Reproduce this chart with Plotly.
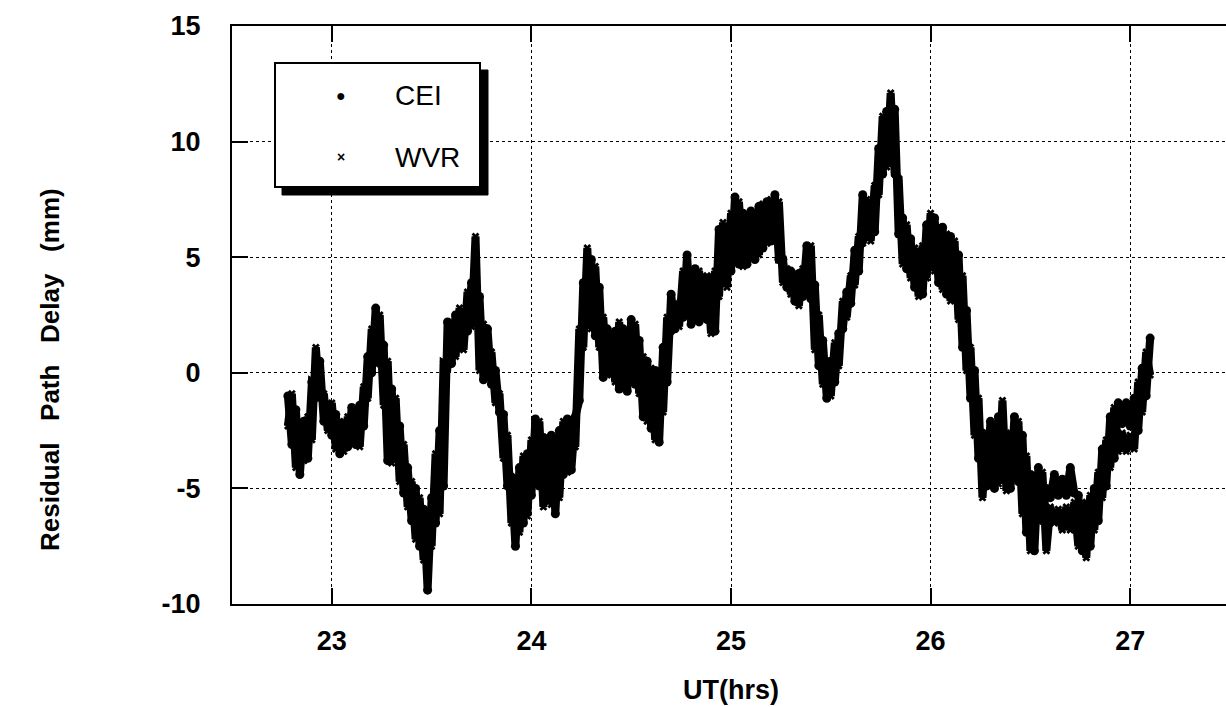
import plotly.graph_objects as go

# ---- data (UT hours, residual path delay mm) ----
UT_START = 22.78
UT_STEP = 0.02

cei = [
    -1.0, -3.1, -1.6, -4.4, -2.1, -3.7, -0.4, -0.5, 0.5, -2.1,
    -1.4, -2.7, -1.8, -3.5, -2.2, -3.2, -1.5, -3.1, -1.4, -2.3,
    0.7, 0.0, 2.8, 0.4, 1.2, -3.8, -0.7, -3.5, -2.3, -5.2,
    -4.1, -6.4, -5.0, -7.5, -5.9, -9.4, -5.4, -6.5, -2.5, -4.9,
    2.2, 0.4, 2.5, 1.1, 2.5, 1.8, 3.9, 2.5, 3.3, -0.3,
    1.9, -0.5, 0.1, -1.7, -1.8, -4.9, -4.5, -7.5, -4.1, -6.5,
    -3.5, -5.3, -2.0, -4.9, -2.8, -5.5, -2.7, -6.1, -2.5, -4.4,
    -2.0, -4.2, -1.9, -1.2, 3.9, 2.1, 4.9, 1.6, 3.7, -0.2,
    1.9, 0.0, 1.8, -0.7, 1.9, -0.8, 2.3, -0.5, 1.4, -1.9,
    0.5, -2.4, 0.1, -3.0, 1.1, -0.4, 3.4, 1.9, 2.9, 2.4,
    5.1, 2.1, 4.5, 2.2, 4.1, 2.3, 4.1, 1.8, 6.2, 4.1,
    5.7, 4.4, 7.6, 4.7, 6.9, 4.7, 7.0, 4.9, 7.2, 5.4,
    7.4, 5.7, 7.7, 4.9, 4.9, 3.7, 4.4, 3.1, 4.3, 3.3,
    5.5, 3.2, 3.8, 0.3, 1.4, -1.1, 0.5, -0.4, 1.7, 1.9,
    3.5, 3.0, 5.3, 4.4, 7.7, 5.9, 7.3, 6.1, 9.7, 8.6,
    11.3, 9.1, 11.4, 6.0, 6.7, 4.5, 5.8, 3.7, 4.9, 3.4,
    6.4, 4.7, 6.7, 3.9, 6.3, 3.4, 5.9, 3.2, 5.1, 1.1,
    2.7, -1.1, 0.1, -3.7, -2.6, -4.9, -2.1, -5.0, -1.9, -4.6,
    -2.7, -5.0, -1.9, -4.7, -2.7, -6.9, -4.4, -7.7, -4.1, -6.4,
    -5.0, -5.4, -4.4, -5.3, -4.6, -5.3, -4.1, -5.2, -5.3, -7.7,
    -5.7, -7.5, -5.0, -6.4, -3.3, -4.9, -1.9, -3.7, -1.3, -2.2,
    -1.3, -2.3, -1.1, -2.5, 0.2, -1.0, 1.5,
]

wvr = [
    -2.3, -0.9, -4.1, -2.1, -3.8, -1.9, -2.9, 1.1, -1.1, -0.9,
    -2.5, -1.3, -3.3, -2.1, -3.4, -1.9, -3.0, -1.7, -3.2, -0.6,
    -1.1, 1.9, 0.8, 2.5, -1.4, 0.5, -3.9, -1.1, -4.7, -3.1,
    -5.8, -4.7, -7.2, -5.4, -8.1, -6.1, -7.5, -3.5, -6.1, 0.4,
    0.3, 2.2, 0.7, 2.8, 1.0, 3.5, 2.0, 5.9, 0.1, 2.1,
    -0.2, 0.9, -1.3, -0.9, -3.7, -2.7, -6.5, -4.7, -6.9, -3.6,
    -6.2, -2.9, -4.7, -2.1, -5.8, -2.8, -5.7, -3.0, -5.4, -2.1,
    -4.3, -2.0, -3.2, 1.9, 1.1, 5.4, 1.9, 4.6, 1.1, 2.4,
    -0.1, 1.6, -0.4, 2.2, -0.4, 1.5, -0.4, 2.1, -0.9, 0.7,
    -2.1, 0.2, -2.9, 0.1, -1.7, 2.4, 1.8, 3.0, 2.0, 4.4,
    2.6, 4.5, 2.3, 4.4, 3.0, 4.2, 1.7, 4.4, 3.3, 6.5,
    3.7, 6.9, 4.8, 7.4, 4.6, 6.7, 4.9, 6.9, 5.1, 7.3,
    5.6, 7.5, 6.0, 7.4, 3.9, 4.5, 3.4, 4.2, 2.9, 4.5,
    3.7, 5.5, 1.0, 2.5, -0.5, 0.5, -1.0, 1.3, 0.3, 3.1,
    2.4, 4.2, 3.8, 5.9, 5.6, 7.5, 5.7, 8.1, 7.7, 11.1,
    8.9, 12.1, 8.6, 8.4, 4.7, 6.4, 4.1, 5.4, 3.3, 5.5,
    4.1, 6.9, 4.4, 6.3, 3.6, 6.0, 3.1, 5.7, 2.3, 4.2,
    0.1, 1.1, -2.7, -1.1, -5.4, -2.7, -4.8, -2.4, -4.8, -1.2,
    -5.1, -2.6, -4.2, -2.1, -6.1, -3.6, -7.7, -4.4, -6.2, -4.3,
    -7.7, -5.8, -6.5, -5.9, -6.8, -5.8, -6.8, -5.6, -7.5, -5.6,
    -8.0, -5.3, -6.8, -4.3, -5.4, -2.9, -4.1, -1.5, -3.4, -2.6,
    -3.4, -2.7, -3.3, -0.4, -1.7, 0.9, -0.1,
]

ut = [round(UT_START + UT_STEP * i, 2) for i in range(len(cei))]

x_ticks = [23, 24, 25, 26, 27]
x_ticklabels = ["23", "24", "25", "26", "27"]
y_ticks = [-10, -5, 0, 5, 10, 15]
y_ticklabels = ["-10", "-5", "0", "5", "10", "15"]

series_names = ["CEI", "WVR"]

FONT = "Liberation Sans, Arial, Helvetica, sans-serif"

fig = go.Figure()
fig.add_trace(go.Scatter(
    x=ut, y=cei, name=series_names[0], mode="lines+markers",
    line=dict(color="black", width=8),
    marker=dict(symbol="circle", size=9, color="black"),
    showlegend=False, hoverinfo="skip"))
fig.add_trace(go.Scatter(
    x=ut, y=wvr, name=series_names[1], mode="lines+markers",
    line=dict(color="black", width=8),
    marker=dict(symbol="x", size=7, color="black"),
    showlegend=False, hoverinfo="skip"))

L, R, T, B = 232, 0, 26, 103
W, H = 1226, 707
pw = W - L - R
ph = H - T - B


def px2paper(px, py):
    return (px - L) / pw, (H - B - py) / ph


# Legend box with drop shadow (built from shapes + annotations)
sx0, sy1 = px2paper(282, 70)
sx1, sy0 = px2paper(488, 195)
bx0, by1 = px2paper(275, 63)
bx1, by0 = px2paper(480, 187)
fig.add_shape(type="rect", xref="paper", yref="paper", x0=sx0, x1=sx1, y0=sy0, y1=sy1,
              fillcolor="black", line=dict(color="black", width=1), layer="above")
fig.add_shape(type="rect", xref="paper", yref="paper", x0=bx0, x1=bx1, y0=by0, y1=by1,
              fillcolor="white", line=dict(color="black", width=2), layer="above")

mx, my1 = px2paper(341, 95)
_, my2 = px2paper(341, 157)
tx, _ = px2paper(393, 95)
fig.add_annotation(xref="paper", yref="paper", x=mx, y=my1, text="\u25cf", showarrow=False,
                   font=dict(family=FONT, size=16, color="black"), xanchor="center", yanchor="middle")
fig.add_annotation(xref="paper", yref="paper", x=mx, y=my2, text="\u00d7", showarrow=False,
                   font=dict(family=FONT, size=14, color="black", weight="bold"),
                   xanchor="center", yanchor="middle")
fig.add_annotation(xref="paper", yref="paper", x=tx, y=my1, text=series_names[0], showarrow=False,
                   font=dict(family=FONT, size=28, color="black"), xanchor="left", yanchor="middle")
fig.add_annotation(xref="paper", yref="paper", x=tx, y=my2, text=series_names[1], showarrow=False,
                   font=dict(family=FONT, size=28, color="black"), xanchor="left", yanchor="middle")

# Axis titles
ax_x, ax_y = px2paper(50, 370)
fig.add_annotation(xref="paper", yref="paper", x=ax_x, y=ax_y,
                   text="Residual\u00a0\u00a0\u00a0Path\u00a0\u00a0\u00a0Delay\u00a0\u00a0\u00a0(mm)",
                   textangle=-90, showarrow=False, xanchor="center", yanchor="middle",
                   font=dict(family=FONT, size=26, color="black", weight="bold"))
tx_x, tx_y = px2paper(731, 690)
fig.add_annotation(xref="paper", yref="paper", x=tx_x, y=tx_y, text="UT(hrs)",
                   showarrow=False, xanchor="center", yanchor="middle",
                   font=dict(family=FONT, size=27, color="black", weight="bold"))

fig.update_xaxes(
    range=[22.5, 27.48], tickvals=x_ticks, ticktext=x_ticklabels,
    showline=True, linecolor="black", linewidth=2, mirror="ticks",
    ticks="inside", ticklen=16, tickwidth=1.5, tickcolor="black",
    showgrid=True, gridcolor="black", gridwidth=1.3, griddash="dot",
    zeroline=False, ticklabelstandoff=12,
    tickfont=dict(family=FONT, size=27, color="black", weight="bold"))
fig.update_yaxes(
    range=[-10, 15], tickvals=y_ticks, ticktext=y_ticklabels,
    showline=True, linecolor="black", linewidth=2, mirror=False,
    ticks="inside", ticklen=16, tickwidth=1.5, tickcolor="black",
    showgrid=True, gridcolor="black", gridwidth=1.3, griddash="dot",
    zeroline=False, ticklabelstandoff=24,
    tickfont=dict(family=FONT, size=27, color="black", weight="bold"))

fig.update_layout(
    width=W, height=H, margin=dict(l=L, r=R, t=T, b=B),
    paper_bgcolor="white", plot_bgcolor="white", showlegend=False)

fig.write_html("out.html")
